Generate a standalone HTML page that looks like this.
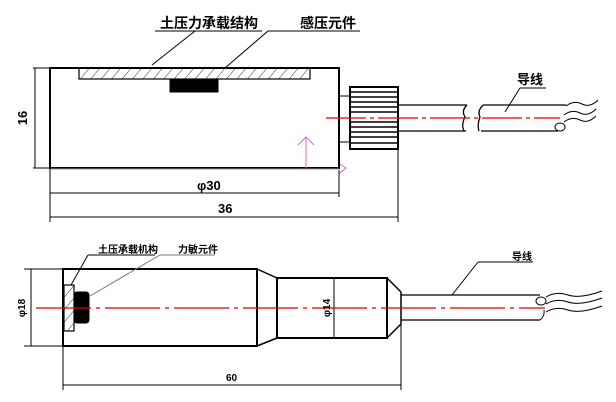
<!DOCTYPE html>
<html><head><meta charset="utf-8"><style>
html,body{margin:0;padding:0;background:#fff;width:616px;height:402px;overflow:hidden}
svg{display:block}
text{font-family:"Liberation Sans","Noto Sans CJK SC",sans-serif;font-weight:bold;fill:#000}
</style></head><body>
<svg width="616" height="402" viewBox="0 0 616 402" xmlns="http://www.w3.org/2000/svg">
<defs>
<pattern id="h" width="8" height="8" patternUnits="userSpaceOnUse" patternTransform="rotate(40)"><line x1="0" y1="0" x2="0" y2="8" stroke="#000" stroke-width="0.8"/></pattern>
</defs>
<g fill="none" stroke="#000">
<rect x="50" y="68" width="289" height="100" stroke-width="2"/>
<line x1="50" y1="169" x2="339" y2="169" stroke="#999" stroke-width="1"/>
<rect x="79" y="68" width="231" height="11" fill="url(#h)" stroke-width="1.2"/>
<rect x="170" y="79" width="48" height="13" fill="#000"/>
<line x1="339" y1="96" x2="350" y2="96"/><line x1="339" y1="142" x2="350" y2="142"/>
<rect x="350" y="87" width="48" height="62" stroke-width="2"/>
<g stroke-width="1.5">
<line x1="350" y1="92" x2="398" y2="92"/><line x1="350" y1="97" x2="398" y2="97"/><line x1="350" y1="102" x2="398" y2="102"/><line x1="350" y1="107" x2="398" y2="107"/><line x1="350" y1="112" x2="398" y2="112"/><line x1="350" y1="122" x2="398" y2="122"/><line x1="350" y1="127" x2="398" y2="127"/><line x1="350" y1="132" x2="398" y2="132"/><line x1="350" y1="137" x2="398" y2="137"/><line x1="350" y1="143" x2="398" y2="143"/>
</g>
<path d="M398 105H467 M398 131H466 M467 105 q-6 6 -2 12 q-4 8 -1 14 M483 105 q-6 6 -3 12 q-3 8 -1 14 M483 105H566 M481 131H558" stroke-width="1.3"/>
<ellipse cx="560" cy="127" rx="5" ry="4"/>
<path d="M566 106 q8 -6 16 -2 t16 -4 M564 115 q8 -6 16 -2 t16 -4 M564 122 q8 -6 16 -2 t16 -4"/>
<path d="M155 31H262 M195 31L152 65" stroke-width="1"/>
<path d="M268 31H360 M268 31L225 68" stroke-width="1"/>
<path d="M520 88H546 M520 88L505 112" stroke-width="1"/>
<path d="M33 68H50 M33 168H50 M35 68V168" stroke-width="1"/>
<path d="M50 168V222 M339 170V197 M398 149V222" stroke-width="1"/>
<path d="M50 193H339 M50 217H398" stroke-width="1"/>
<path d="M306 168V137 M298 145L306 137L314 145" stroke="#d070c0"/>
<path d="M340 164L346 168L340 173" stroke="#d070c0"/>

<rect x="63" y="269" width="194" height="77" stroke-width="2"/>
<path d="M257 269L277 278 M257 346L277 338" stroke-width="1.5"/>
<rect x="277" y="278" width="110" height="60" stroke-width="2"/>
<path d="M387 278L401 292 M387 338L401 324 M401 292V324" stroke-width="1.5"/>
<path d="M401 295H540 M401 320H540" stroke-width="1.3"/>
<ellipse cx="541" cy="301" rx="5" ry="4"/>
<path d="M540 320 q5 -4 4 -10"/>
<path d="M546 297 q10 -6 22 -2 t34 -4 M546 304 q10 -6 22 -2 t34 -4 M546 312 q10 -6 22 -2 t34 -4" stroke-width="1"/>
<rect x="64" y="285" width="10" height="46" fill="url(#h)" stroke-width="1.2"/>
<rect x="74" y="292" width="15" height="31" rx="3" fill="#000"/>
<path d="M88 255H155 M88 255L71 285" stroke-width="1"/>
<path d="M160 255H215 M160 255L90 296" stroke="#777" stroke-width="1"/>
<path d="M478 262H533 M478 262L452 295" stroke-width="1"/>
<path d="M24 269H63 M24 346H63 M31 269V346" stroke-width="1"/>
<path d="M334 278V338" stroke-width="1"/>
<path d="M63 346V390 M401 324V390 M63 385H401" stroke-width="1"/>
</g>
<line x1="326" y1="118" x2="560" y2="118" stroke="#e00000" stroke-width="1.2" stroke-dasharray="40,4,4,4"/>
<line x1="36" y1="308" x2="545" y2="308" stroke="#e00000" stroke-width="1.2" stroke-dasharray="55,5,4,5"/>
<text x="160" y="28" font-size="14">土压力承载结构</text>
<text x="300" y="28" font-size="14">感压元件</text>
<text x="517" y="84" font-size="13">导线</text>
<text x="197" y="190" font-size="13">φ30</text>
<text x="218" y="213" font-size="13">36</text>
<text transform="translate(27,118) rotate(-90)" font-size="13" text-anchor="middle">16</text>
<text x="98" y="253" font-size="10">土压承载机构</text>
<text x="178" y="253" font-size="10">力敏元件</text>
<text x="512" y="260" font-size="10">导线</text>
<text transform="translate(25,308) rotate(-90)" font-size="10" text-anchor="middle">φ18</text>
<text transform="translate(330,308) rotate(-90)" font-size="10" text-anchor="middle">φ14</text>
<text x="226" y="381" font-size="10">60</text>
</svg>
</body></html>
